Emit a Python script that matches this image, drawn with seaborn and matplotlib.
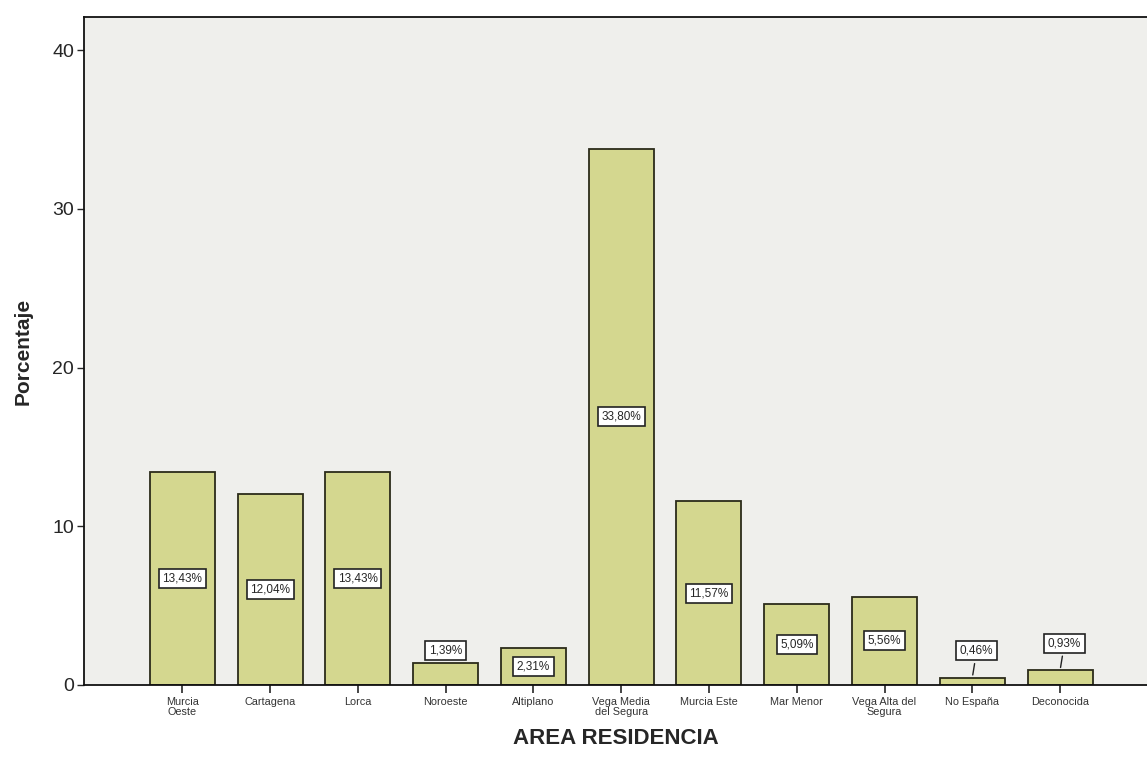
import matplotlib
matplotlib.use("Agg")
import matplotlib.pyplot as plt
import seaborn as sns
import pandas as pd

areas = ["Murcia\nOeste", "Cartagena", "Lorca", "Noroeste", "Altiplano",
         "Vega Media\ndel Segura", "Murcia Este", "Mar Menor",
         "Vega Alta del\nSegura", "No España", "Deconocida"]
porcentaje = [13.43, 12.04, 13.43, 1.39, 2.31, 33.80, 11.57, 5.09, 5.56, 0.46, 0.93]
etiquetas = ["13,43%", "12,04%", "13,43%", "1,39%", "2,31%", "33,80%",
             "11,57%", "5,09%", "5,56%", "0,46%", "0,93%"]

df = pd.DataFrame({"area": areas, "pct": porcentaje})

sns.set_style("white")
plt.rcParams["font.family"] = ["Liberation Sans", "DejaVu Sans"]

fig = plt.figure(figsize=(11.47, 7.72), dpi=100)
ax = fig.add_axes([0.0732, 0.1127, 0.9268, 0.8653])
ax.set_facecolor("#efefec")

sns.barplot(data=df, x="area", y="pct", color="#d4d78f", saturation=1,
            width=0.74, edgecolor="#2b2b1a", linewidth=1.3, ax=ax)

# value labels: middle of bar for taller bars, above for the small ones
for i, (v, lab) in enumerate(zip(porcentaje, etiquetas)):
    box = dict(boxstyle="square,pad=0.3", facecolor="white", edgecolor="#222222", linewidth=1.2)
    if v >= 2:
        ax.text(i, v / 2, lab, ha="center", va="center", fontsize=8.5, bbox=box)
    elif v >= 1:
        ax.text(i, v + 0.8, lab, ha="center", va="center", fontsize=8.5, bbox=box)
    else:
        ax.annotate(lab, xy=(i, v), xytext=(i + 0.05, v + 1.7), ha="center", va="center",
                    fontsize=8.5, bbox=box,
                    arrowprops=dict(arrowstyle="-", color="#222222", lw=1))

ax.set_xlim(-1.12, 10.99)
ax.set_ylim(0, 42.1)
ax.set_yticks([0, 10, 20, 30, 40])
ax.tick_params(axis="y", labelsize=14, length=5, width=1, direction="out", left=True, pad=2)
ax.tick_params(axis="x", labelsize=7.8, length=6, width=1.2, direction="out", bottom=True,
               pad=3, labelcolor="#333333")
for lbl in ax.get_xticklabels():
    lbl.set_linespacing(0.9)

ax.set_xlabel("AREA RESIDENCIA", fontsize=16, fontweight="bold", labelpad=8)
ax.set_ylabel("Porcentaje", fontsize=15, fontweight="bold", labelpad=14)

for s in ["left", "top", "bottom"]:
    ax.spines[s].set_color("#111111")
    ax.spines[s].set_linewidth(1.3)
ax.spines["right"].set_visible(False)

fig.savefig("out.png", dpi=100, facecolor="white")
